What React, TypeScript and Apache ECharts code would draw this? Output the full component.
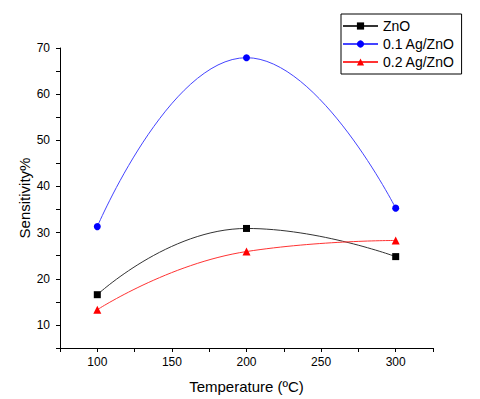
import React, { useEffect, useRef } from "react";
import * as echarts from "echarts";

const temperatures = [100, 200, 300];
const znO = [16.55, 30.9, 24.8];
const ag01 = [31.3, 67.9, 35.3];
const ag02 = [13.3, 25.9, 28.3];
const seriesNames = ["ZnO", "0.1 Ag/ZnO", "0.2 Ag/ZnO"];
const xName = "Temperature (ºC)";
const yName = "Sensitivity%";

const FONT = "'Liberation Sans', Arial, sans-serif";

export default function App() {
  const ref = useRef<HTMLDivElement>(null);
  useEffect(() => {
    if (!ref.current) return;
    const chart = echarts.init(ref.current, null, { renderer: "svg" });
    const pair = (vals: number[]) => temperatures.map((t, i) => [t, vals[i]]);
    chart.setOption({
      animation: false,
      backgroundColor: "#fff",
      textStyle: { fontFamily: FONT },
      grid: { left: 60, top: 48, right: 47, bottom: 49, containLabel: false },
      legend: {
        orient: "vertical",
        left: 341,
        top: 14,
        padding: [5, 7, 5, 1],
        borderColor: "#000",
        borderWidth: 1,
        borderRadius: 0,
        itemWidth: 35,
        itemHeight: 9,
        itemGap: 4,
        textStyle: { fontFamily: FONT, fontSize: 14, color: "#000", lineHeight: 14 },
        data: seriesNames,
      },
      xAxis: {
        type: "value",
        min: 75,
        max: 325,
        interval: 25,
        name: xName,
        nameLocation: "middle",
        nameGap: 31,
        nameMoveOverlap: false,
        nameTextStyle: { fontFamily: FONT, fontSize: 15, color: "#000" },
        axisLine: { lineStyle: { color: "#000", width: 1 } },
        axisTick: { inside: false, length: 4, lineStyle: { color: "#000" } },
        axisLabel: {
          fontFamily: FONT,
          fontSize: 12,
          color: "#000",
          margin: 8,
          formatter: (v: number) => (v % 50 === 0 ? String(v) : ""),
        },
        splitLine: { show: false },
      },
      yAxis: {
        type: "value",
        min: 5,
        max: 70,
        interval: 5,
        name: yName,
        nameLocation: "middle",
        nameGap: 28,
        nameMoveOverlap: false,
        nameTextStyle: { fontFamily: FONT, fontSize: 15, color: "#000" },
        axisLine: { show: true, lineStyle: { color: "#000", width: 1 } },
        axisTick: { show: true, inside: false, length: 4, lineStyle: { color: "#000" } },
        axisLabel: {
          fontFamily: FONT,
          fontSize: 12,
          color: "#000",
          margin: 10,
          formatter: (v: number) => (v % 10 === 0 ? String(v) : ""),
        },
        splitLine: { show: false },
      },
      series: [
        {
          name: seriesNames[0],
          type: "line",
          smooth: 0.5,
          data: pair(znO),
          symbol: "rect",
          symbolSize: 7,
          itemStyle: { color: "#000" },
          lineStyle: { color: "#333", width: 1 },
        },
        {
          name: seriesNames[1],
          type: "line",
          smooth: 0.5,
          data: pair(ag01),
          symbol: "circle",
          symbolSize: 7,
          itemStyle: { color: "#0000ff" },
          lineStyle: { color: "#4444ff", width: 1 },
        },
        {
          name: seriesNames[2],
          type: "line",
          smooth: 0.5,
          data: pair(ag02),
          symbol: "triangle",
          symbolSize: 8,
          itemStyle: { color: "#ff0000" },
          lineStyle: { color: "#ff3333", width: 1 },
        },
      ],
    });
    return () => chart.dispose();
  }, []);
  return (
    <div
      ref={ref}
      style={{ position: "fixed", left: 0, top: 0, width: 480, height: 399, background: "#fff" }}
    />
  );
}
